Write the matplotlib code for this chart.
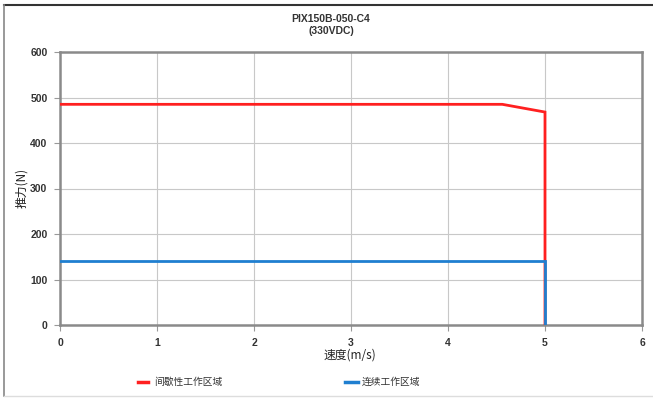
import matplotlib
matplotlib.use("Agg")
import matplotlib.pyplot as plt
from matplotlib.lines import Line2D

plt.rcParams['font.family'] = ['Noto Sans CJK SC', 'DejaVu Sans']

# Force-speed envelopes
peak_speed = [0, 4.56, 5, 5]
peak_force = [485, 485, 468, 0]
cont_speed = [0, 5, 5]
cont_force = [140, 140, 0]

x_ticks = [0, 1, 2, 3, 4, 5, 6]
y_ticks = [0, 100, 200, 300, 400, 500, 600]

title = "PIX150B-050-C4\n(330VDC)"
xlabel = "速度(m/s)"
ylabel = "推力(N)"
peak_label = "间歇性工作区域"
cont_label = "连续工作区域"

latin = ['Liberation Sans', 'DejaVu Sans']

W, H = 653, 398
fig = plt.figure(figsize=(W / 100, H / 100), dpi=100)
ax = fig.add_axes([60 / W, 1 - 325 / H, (642 - 60) / W, (325 - 52) / H])

ax.plot(peak_speed, peak_force, color='#ff2020', lw=2.0, solid_joinstyle='miter', zorder=3)
ax.plot(cont_speed, cont_force, color='#1f7fd0', lw=2.0, solid_joinstyle='miter', zorder=4)

ax.set_xlim(0, 6)
ax.set_ylim(0, 600)
ax.set_xticks(x_ticks)
ax.set_yticks(y_ticks)
ax.set_xticklabels([str(v) for v in x_ticks], fontsize=7.5, fontweight='bold',
                   color='#333333', family=latin)
ax.set_yticklabels([str(v) for v in y_ticks], fontsize=7.5, fontweight='bold',
                   color='#333333', family=latin)
ax.tick_params(length=4, width=0.8, color='#999999', pad=5)
ax.grid(True, color='#c8c8c8', lw=0.8)
for s in ax.spines.values():
    s.set_color('#8a8a8a')
    s.set_linewidth(1.8)

fig.text(331 / W, 1 - 25 / H, title, ha='center', va='center', fontsize=7.5,
         fontweight='bold', color='#333333', linespacing=1.25, family=latin)
fig.text(350 / W, 1 - 355 / H, xlabel, ha='center', va='center', fontsize=8.5, color='#222222')
fig.text(22 / W, 1 - 188 / H, ylabel, ha='center', va='center', fontsize=8.5,
         color='#222222', rotation=90)

# Legend row
fig.add_artist(Line2D([138 / W, 148 / W], [1 - 382 / H] * 2, color='#ff2020', lw=2.5))
fig.text(154 / W, 1 - 382 / H, peak_label, ha='left', va='center', fontsize=7, color='#333333')
fig.add_artist(Line2D([345 / W, 358 / W], [1 - 382 / H] * 2, color='#1f7fd0', lw=2.5))
fig.text(362 / W, 1 - 382 / H, cont_label, ha='left', va='center', fontsize=7, color='#333333')

# Outer frame
fig.add_artist(Line2D([4 / W, 1], [1 - 4.5 / H] * 2, color='#333333', lw=1.5))
fig.add_artist(Line2D([4 / W, 4 / W], [1 - 4.5 / H, 1 - 396 / H], color='#888888', lw=1.2))
fig.add_artist(Line2D([4 / W, 1], [1 - 396 / H] * 2, color='#dddddd', lw=1.0))

fig.savefig("out.png", dpi=100)
